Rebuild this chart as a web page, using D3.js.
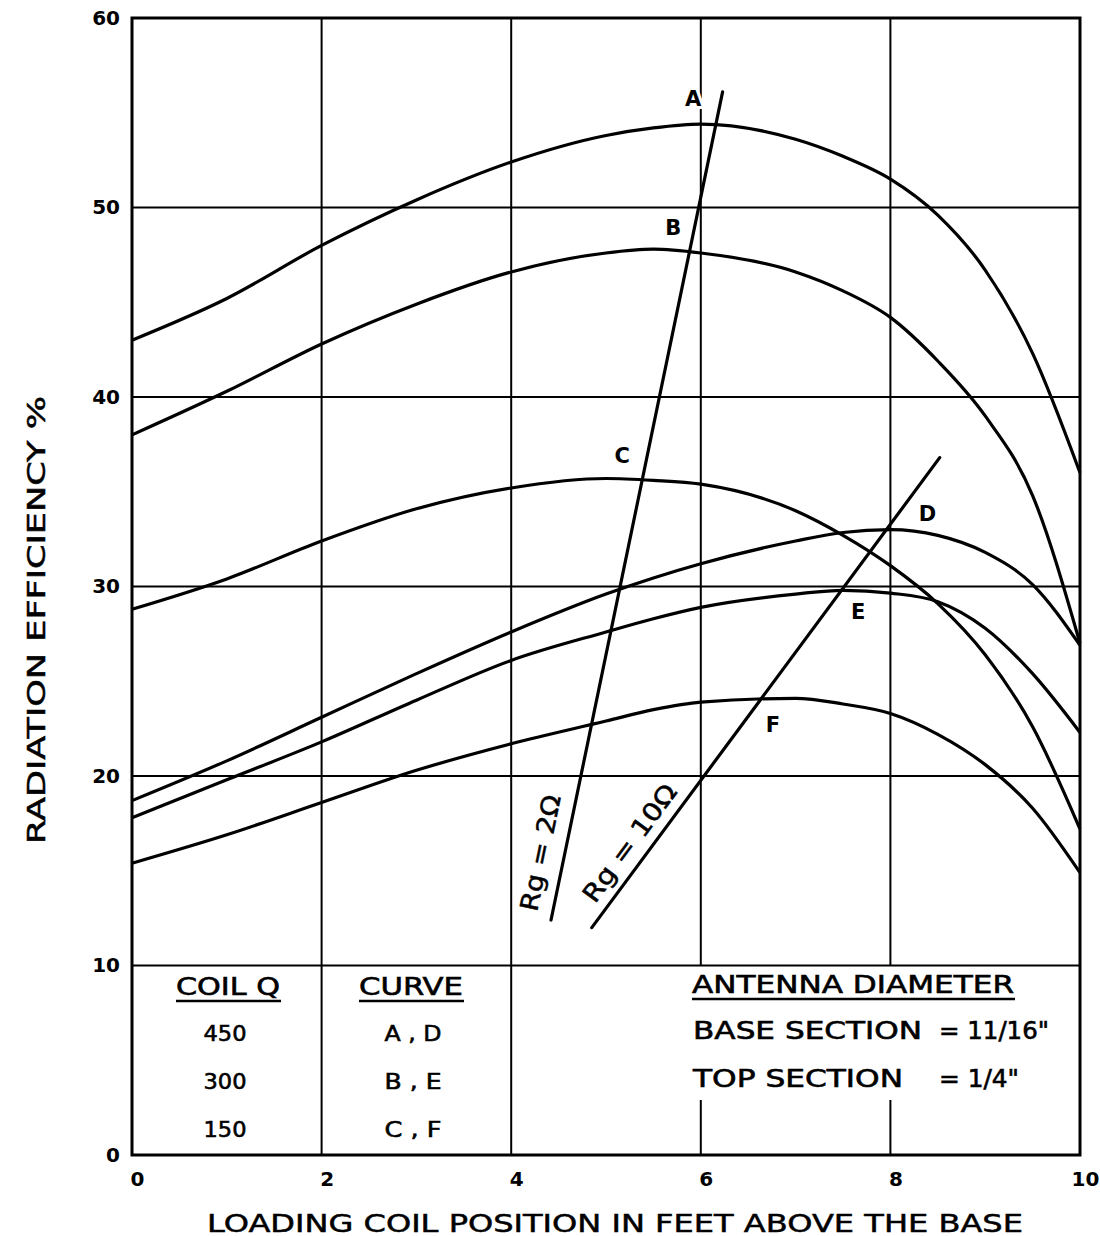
<!DOCTYPE html>
<html>
<head>
<meta charset="utf-8">
<script src="https://cdn.jsdelivr.net/npm/d3@7"></script>
<style>
  body { margin: 0; background: #fff; }
  svg { display: block; }
  text { font-family: "DejaVu Sans", sans-serif; fill: #000; }
</style>
</head>
<body>
<div id="chart"></div>
<script>
var posX = [0, 1, 2, 3, 4, 5, 5.5, 6, 7, 7.5, 8, 8.5, 9, 9.5, 10];

// radiation efficiency %, one list per curve
var curveA = [43.0, 45.2, 48.0, 50.4, 52.4, 53.8, 54.2, 54.4, 53.6, 52.7, 51.5, 49.6, 46.7, 42.3, 36.0];
var curveB = [38.0, 40.3, 42.8, 44.9, 46.6, 47.6, 47.8, 47.6, 46.6, 45.6, 44.2, 41.9, 39.0, 34.8, 27.0];
var curveC = [28.8, 30.4, 32.4, 34.1, 35.2, 35.7, 35.6, 35.4, 34.0, 32.7, 31.1, 29.1, 26.4, 22.6, 17.2];
var curveD = [18.7, 20.8, 23.1, 25.4, 27.6, 29.6, 30.45, 31.2, 32.4, 32.85, 33.0, 32.7, 31.8, 30.1, 26.9];
var curveE = [17.8, 19.8, 21.8, 24.0, 26.1, 27.6, 28.3, 28.9, 29.6, 29.8, 29.65, 29.2, 27.8, 25.4, 22.3];
var curveF = [15.4, 16.9, 18.6, 20.3, 21.7, 22.9, 23.5, 23.9, 24.1, 23.8, 23.3, 22.2, 20.6, 18.3, 14.9];

// ground resistance lines (end points)
var rg2X = [4.42, 6.23],  rg2Y = [12.4, 56.1];
var rg10X = [4.85, 8.52], rg10Y = [12.0, 36.8];

// curve letters, placed in data units
var labelText = ["A", "B", "C", "D", "E", "F"];
var labelX = [5.92, 5.71, 5.17, 8.39, 7.66, 6.76];
var labelY = [55.7, 48.9, 36.9, 33.8, 28.65, 22.7];

var xTicks = [0, 2, 4, 6, 8, 10];
var yTicks = [0, 10, 20, 30, 40, 50, 60];

// legend
var coilQ = ["450", "300", "150"];
var curveSets = ["A , D", "B , E", "C , F"];

var W = 1100, H = 1236;
var margin = {top: 18, right: 20, bottom: 81, left: 132};

var svg = d3.select("#chart").append("svg")
    .attr("width", W)
    .attr("height", H);

var x = d3.scaleLinear().domain([0, 10]).range([margin.left, W - margin.right]);
var y = d3.scaleLinear().domain([0, 60]).range([H - margin.bottom, margin.top]);

// grid
var grid = svg.append("g").attr("stroke", "#000").attr("stroke-width", 2);
yTicks.filter(function(d){ return d > 0 && d < 60; }).forEach(function(d){
    grid.append("line")
        .attr("x1", x(0)).attr("x2", x(10))
        .attr("y1", y(d)).attr("y2", y(d));
});
xTicks.filter(function(d){ return d > 0 && d < 10; }).forEach(function(d){
    if (d <= 4) {
        grid.append("line")
            .attr("x1", x(d)).attr("x2", x(d))
            .attr("y1", y(60)).attr("y2", y(0));
    } else {
        // broken by the antenna legend
        grid.append("line")
            .attr("x1", x(d)).attr("x2", x(d))
            .attr("y1", y(60)).attr("y2", y(10));
        grid.append("line")
            .attr("x1", x(d)).attr("x2", x(d))
            .attr("y1", y(0)).attr("y2", 1100);
    }
});

// frame
svg.append("rect")
    .attr("x", x(0)).attr("y", y(60))
    .attr("width", x(10) - x(0)).attr("height", y(0) - y(60))
    .attr("fill", "none").attr("stroke", "#000").attr("stroke-width", 3);

// axes (labels only, the frame is drawn above)
var xAxis = svg.append("g")
    .attr("transform", "translate(5," + y(0) + ")")
    .call(d3.axisBottom(x).tickValues(xTicks).tickSize(0).tickPadding(17));
var yAxis = svg.append("g")
    .attr("transform", "translate(" + (x(0) - 10) + ",0)")
    .call(d3.axisLeft(y).tickValues(yTicks).tickSize(0).tickPadding(2));
[xAxis, yAxis].forEach(function(a){
    a.select(".domain").remove();
    a.selectAll("text")
        .style("font-family", "'DejaVu Sans', sans-serif")
        .style("font-size", "20px")
        .style("font-weight", "bold");
});

// curves
var line = d3.line()
    .x(function(d){ return x(d[0]); })
    .y(function(d){ return y(d[1]); })
    .curve(d3.curveMonotoneX);

[curveA, curveB, curveC, curveD, curveE, curveF].forEach(function(c){
    svg.append("path")
        .datum(posX.map(function(px, i){ return [px, c[i]]; }))
        .attr("d", line)
        .attr("fill", "none")
        .attr("stroke", "#000")
        .attr("stroke-width", 3.2);
});

// Rg lines
[[rg2X, rg2Y], [rg10X, rg10Y]].forEach(function(r){
    svg.append("line")
        .attr("x1", x(r[0][0])).attr("y1", y(r[1][0]))
        .attr("x2", x(r[0][1])).attr("y2", y(r[1][1]))
        .attr("stroke", "#000").attr("stroke-width", 3.2)
        .attr("stroke-linecap", "round");
});

function angleOf(xs, ys){
    var dx = x(xs[1]) - x(xs[0]), dy = y(ys[1]) - y(ys[0]);
    return Math.atan2(dy, dx) * 180 / Math.PI;
}
function rgLabel(txt, vx, vy, ang, len){
    svg.append("text")
        .attr("transform", "translate(" + x(vx) + "," + y(vy) + ") rotate(" + ang + ")")
        .attr("text-anchor", "middle")
        .attr("dominant-baseline", "central")
        .attr("textLength", len)
        .attr("lengthAdjust", "spacingAndGlyphs")
        .style("font-size", "25px")
        .style("stroke", "#000").style("stroke-width", 0.5)
        .text(txt);
}
rgLabel("Rg = 2\u03A9", 4.31, 15.94, angleOf(rg2X, rg2Y), 118);
rgLabel("Rg = 10\u03A9", 5.25, 16.46, angleOf(rg10X, rg10Y), 140);

// curve letters
labelText.forEach(function(t, i){
    svg.append("text")
        .attr("x", x(labelX[i])).attr("y", y(labelY[i]))
        .attr("text-anchor", "middle")
        .attr("dominant-baseline", "central")
        .style("font-size", "21px")
        .style("font-weight", "bold")
        .style("stroke", "#fff").style("stroke-width", 6)
        .style("paint-order", "stroke")
        .text(t);
});

// legend: coil Q / curve table
function legendText(txt, cx, cy, anchor, len){
    var t = svg.append("text")
        .attr("x", cx).attr("y", cy)
        .attr("text-anchor", anchor)
        .attr("dominant-baseline", "central")
        .style("font-size", "24px")
        .style("stroke", "#000").style("stroke-width", 0.6)
        .text(txt);
    if (len) t.attr("textLength", len).attr("lengthAdjust", "spacingAndGlyphs");
    return t;
}
function underline(x1, x2, yy){
    svg.append("line").attr("x1", x1).attr("x2", x2).attr("y1", yy).attr("y2", yy)
        .attr("stroke", "#000").attr("stroke-width", 2.5);
}
legendText("COIL Q", 228, 987, "middle", 104);
underline(176, 281, 1001);
legendText("CURVE", 411, 987, "middle", 104);
underline(359, 464, 1001);
coilQ.forEach(function(q, i){
    legendText(q, 225, 1033 + i * 48, "middle", 43).style("font-size", "22px");
    legendText(curveSets[i], 413, 1033 + i * 48, "middle", 57).style("font-size", "22px");
});

// legend: antenna diameter
legendText("ANTENNA DIAMETER", 692, 985, "start", 322);
underline(692, 1015, 999);
legendText("BASE SECTION", 693, 1031, "start", 229);
legendText("= 11/16\"", 939, 1031, "start", 110);
legendText("TOP SECTION", 693, 1079, "start", 210);
legendText("= 1/4\"", 939, 1079, "start", 80);

// axis titles
svg.append("text")
    .attr("x", 615).attr("y", 1223)
    .attr("text-anchor", "middle")
    .attr("dominant-baseline", "central")
    .attr("textLength", 816)
    .attr("lengthAdjust", "spacingAndGlyphs")
    .style("font-size", "25px")
    .style("stroke", "#000").style("stroke-width", 0.5)
    .text("LOADING COIL POSITION IN FEET ABOVE THE BASE");

svg.append("text")
    .attr("transform", "translate(36,620) rotate(-90)")
    .attr("text-anchor", "middle")
    .attr("dominant-baseline", "central")
    .attr("textLength", 448)
    .attr("lengthAdjust", "spacingAndGlyphs")
    .style("font-size", "25px")
    .style("stroke", "#000").style("stroke-width", 0.5)
    .text("RADIATION EFFICIENCY %");
</script>
</body>
</html>
